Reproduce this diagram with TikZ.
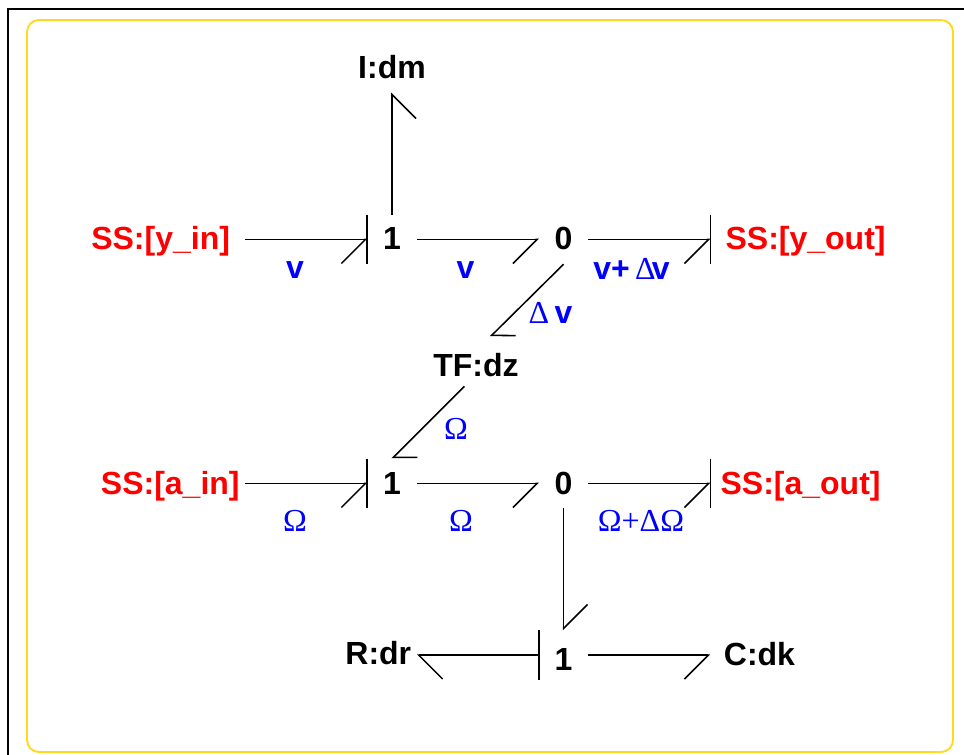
\documentclass[tikz,border=0pt]{standalone}
\usepackage{fontspec}
\setmainfont{Liberation Sans}
\newfontfamily\greekfont{Liberation Serif}
\usepackage{xcolor}
\usepackage{tikz}
\usetikzlibrary{arrows.meta, positioning}
\definecolor{panelyellow}{HTML}{FFD91A}
\newcommand{\grk}[1]{{\greekfont\mdseries #1}}
\tikzstyle{junction} = [rectangle, minimum width=36.75pt, minimum height=36.75pt, inner sep=0pt, text height=15.75pt, text depth=0pt, font=\bfseries\fontsize{24}{28}\selectfont]
\tikzstyle{element} = [junction, inner xsep=4pt]
\tikzstyle{source} = [element, text=red]
\tikzstyle{flowlabel} = [inner sep=0pt, text=blue, font=\bfseries\fontsize{24}{28}\selectfont]
\tikzstyle{bond} = [line width=1.15pt, -{Straight Barb[harpoon, swap, length=18pt, width=36pt]}]
\tikzstyle{rbond} = [line width=1.15pt, -{Straight Barb[harpoon, length=18pt, width=36pt]}]
\tikzstyle{slantbond} = [line width=1.15pt, -{Straight Barb[harpoon, length=12.73pt, width=25.46pt]}]
\tikzstyle{causal} = [line width=1.15pt]

\begin{document}
\begin{tikzpicture}[x=0.75pt, y=-0.75pt, node distance=91.5pt]
    \useasboundingbox (0,0) rectangle (964,755);
    \draw[line width=1.5pt] (8,755) -- (8,9) -- (964,9);
    \draw[panelyellow, line width=1.4pt, rounded corners=9pt] (27,20) rectangle (953,752);

    \node[junction] (oneY) at (392,239.5) {1};
    \node[junction, right=of oneY] (zeroY) {0};
    \node[element, above=of oneY] (dm) {I:dm};
    \node[source, left=of oneY, inner xsep=11.25pt] (yin) {SS:[y\_in]};
    \node[source, right=of zeroY, inner xsep=11.25pt] (yout) {SS:[y\_out]};
    \node[element, text height=23.25pt] (dz) at (476,361.5) {TF:dz};

    \node[junction] (oneA) at (392,483.5) {1};
    \node[junction, right=of oneA] (zeroA) {0};
    \node[source, left=of oneA] (ain) {SS:[a\_in]};
    \node[source, right=of zeroA, inner xsep=7.5pt] (aout) {SS:[a\_out]};

    \node[junction, below=of zeroA, text height=22.5pt] (oneR) {1};
    \node[element, left=of oneR, text height=13.5pt] (dr) {R:dr};
    \node[element, right=of oneR, inner xsep=10pt, text height=15pt] (dk) {C:dk};

    \node[flowlabel] (v1) at (295,270) {v};
    \node[flowlabel] (v2) at (465.5,270) {v};
    \node[flowlabel] (v3) at (631.5,268.5) {v+\,\grk{Δ}\kern-3pt v};
    \node[flowlabel] (dv) at (550.5,313) {\grk{Δ}\,v};
    \node[flowlabel] (om1) at (456,429) {\grk{Ω}};
    \node[flowlabel] (om2) at (295,521) {\grk{Ω}};
    \node[flowlabel] (om3) at (461,521) {\grk{Ω}};
    \node[flowlabel] (om4) at (641,521) {\grk{Ω+ΔΩ}};

    \draw[bond] (yin) -- (oneY);
    \draw[bond] (oneY) -- (dm);
    \draw[bond] (oneY) -- (zeroY);
    \draw[bond] (zeroY) -- (yout);
    \draw[slantbond] (zeroY.south) -- (dz.60.3);
    \draw[slantbond] (dz.245.8) -- (oneA.north);
    \draw[bond] (ain) -- (oneA);
    \draw[bond] (oneA) -- (zeroA);
    \draw[bond] (zeroA) -- (aout);
    \draw[rbond] (zeroA) -- (oneR);
    \draw[rbond] (oneR) -- (dr);
    \draw[bond] (oneR) -- (dk);

    \draw[causal] (oneY.north west) -- (oneY.south west);
    \draw[causal] (oneA.north west) -- (oneA.south west);
    \draw[causal] (oneR.north west) -- (oneR.south west);
    \draw[causal] (yout.north west) -- (yout.south west);
    \draw[causal] (aout.north west) -- (aout.south west);
\end{tikzpicture}
\end{document}
